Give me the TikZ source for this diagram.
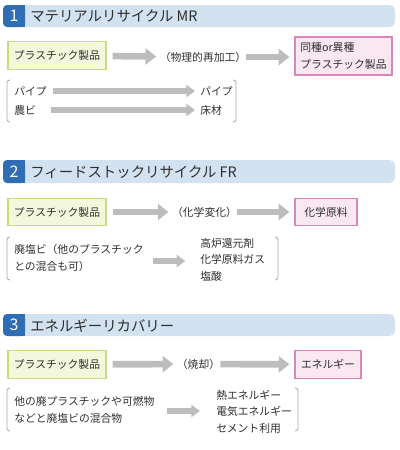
\documentclass[tikz,border=0pt]{standalone}
\usepackage{fontspec}
\setmainfont{Noto Sans CJK JP}
\usetikzlibrary{arrows.meta}

\definecolor{hdrblue}{HTML}{2F6DB5}
\definecolor{hdrbar}{HTML}{D3E2F0}
\definecolor{srcfill}{HTML}{F3F7DC}
\definecolor{srcline}{HTML}{C9DB82}
\definecolor{dstfill}{HTML}{F9E7F1}
\definecolor{dstline}{HTML}{D985BA}
\definecolor{arrowgray}{HTML}{BDBDBD}
\definecolor{brackgray}{HTML}{A8A8A8}
\definecolor{txt}{HTML}{2E2E2E}

\tikzset{
  bigarrow/.style={arrowgray, line width=5pt, -{Triangle[length=8pt,width=12pt]}},
  smallarrow/.style={arrowgray, line width=3.8pt, -{Triangle[length=6.5pt,width=9pt]}},
  srcbox/.style={draw=srcline, fill=srcfill, line width=0.9pt, minimum width=73.5pt,
    minimum height=20.6pt, inner sep=0pt},
  dstbox/.style={draw=dstline, fill=dstfill, line width=0.9pt, minimum height=20.6pt,
    inner sep=0pt, align=left},
  proc/.style={inner sep=0pt},
  lbl/.style={inner sep=0pt, anchor=west, align=left},
  brack/.style={draw=brackgray, line width=0.6pt, rounded corners=2pt},
  numtxt/.style={text=white, font=\fontsize{12}{12}\selectfont},
  hdrtxt/.style={anchor=west, inner sep=0pt, font=\fontsize{10.8}{12}\selectfont},
}

\begin{document}
\begin{tikzpicture}[x=0.75pt, y=-0.75pt, text=txt, font=\fontsize{8.1}{12.4}\selectfont]
  \useasboundingbox (0,0) rectangle (400,450);

  % 1 material recycle
  \fill[hdrbar, rounded corners=4pt] (3,5) rectangle (395,27);
  \fill[hdrblue, rounded corners=3pt] (3,5) rectangle (25,27);
  \fill[hdrblue] (15,5) rectangle (25,27);
  \node[numtxt] (n1) at (14,16) {1};
  \node[hdrtxt] (h1) at (30,16.5) {マテリアルリサイクル MR};

  \node[srcbox] (src1) at (57,55.5) {プラスチック製品};
  \node[proc] (proc1) at (203,57) {（物理的再加工）};
  \node[dstbox, minimum width=72.75pt, minimum height=28.5pt] (dst1) at (343.5,56) {同種or異種\\プラスチック製品};
  \draw[bigarrow, shorten <=4.5pt, shorten >=2.5pt] (src1) -- (proc1);
  \draw[bigarrow, shorten <=0pt, shorten >=3.75pt] (proc1.east) -- (proc1.east -| dst1.west);

  \draw[brack] (10,80) -- (7,80) -- (7,122) -- (10,122);
  \draw[brack] (233,80) -- (236,80) -- (236,122) -- (233,122);
  \node[lbl] (pa) at (14,91) {パイプ};
  \node[lbl] (pb) at (200,91) {パイプ};
  \node[lbl] (na) at (14,110) {農ビ};
  \node[lbl] (nb) at (200,110) {床材};
  \draw[smallarrow, shorten <=4.5pt, shorten >=3.75pt] (pa) -- (pb);
  \draw[smallarrow, shorten <=11pt, shorten >=3.75pt] (na.east) -- (na.east -| nb.west);

  % 2 feedstock recycle
  \fill[hdrbar, rounded corners=4pt] (3,160) rectangle (395,183);
  \fill[hdrblue, rounded corners=3pt] (3,160) rectangle (25,183);
  \fill[hdrblue] (15,160) rectangle (25,183);
  \node[numtxt] (n2) at (14,171.5) {2};
  \node[hdrtxt] (h2) at (30,172) {フィードストックリサイクル FR};

  \node[srcbox] (src2) at (57,212) {プラスチック製品};
  \node[proc] (proc2) at (204.5,212) {（化学変化）};
  \node[dstbox, minimum width=46.5pt] (dst2) at (326,212) {化学原料};
  \draw[bigarrow, shorten <=4.5pt, shorten >=2.5pt] (src2) -- (proc2);
  \draw[bigarrow, shorten <=0pt, shorten >=3.75pt] (proc2) -- (dst2);

  \draw[brack] (10,237) -- (7,237) -- (7,280) -- (10,280);
  \draw[brack] (275,237) -- (278,237) -- (278,280) -- (275,280);
  \node[lbl] (l2) at (14,258) {廃塩ビ（他のプラスチック\\との混合も可）};
  \node[lbl] (r2) at (200,259.5) {高炉還元剤\\化学原料ガス\\塩酸};
  \coordinate (y2) at (0,261);
  \draw[smallarrow, shorten <=7pt, shorten >=11pt] (l2.east |- y2) -- (r2.west |- y2);

  % 3 energy recovery
  \fill[hdrbar, rounded corners=4pt] (3,314) rectangle (395,336);
  \fill[hdrblue, rounded corners=3pt] (3,314) rectangle (25,336);
  \fill[hdrblue] (15,314) rectangle (25,336);
  \node[numtxt] (n3) at (14,325) {3};
  \node[hdrtxt] (h3) at (30,325.5) {エネルギーリカバリー};

  \node[srcbox] (src3) at (57,364.5) {プラスチック製品};
  \node[proc] (proc3) at (198.5,364) {（焼却）};
  \node[dstbox, minimum width=49.5pt] (dst3) at (328,364.5) {エネルギー};
  \draw[bigarrow, shorten <=4.5pt, shorten >=2.5pt] (src3) -- (proc3);
  \draw[bigarrow, shorten <=0pt, shorten >=3.75pt] (proc3) -- (dst3);

  \draw[brack] (10,388) -- (7,388) -- (7,431) -- (10,431);
  \draw[brack] (295,388) -- (298,388) -- (298,431) -- (295,431);
  \node[lbl] (l3) at (14,410) {他の廃プラスチックや可燃物\\などと廃塩ビの混合物};
  \node[lbl] (r3) at (216,411.5) {熱エネルギー\\電気エネルギー\\セメント利用};
  \coordinate (y3) at (0,411);
  \draw[smallarrow, shorten <=9pt, shorten >=12pt] (l3.east |- y3) -- (r3.west |- y3);
\end{tikzpicture}
\end{document}
